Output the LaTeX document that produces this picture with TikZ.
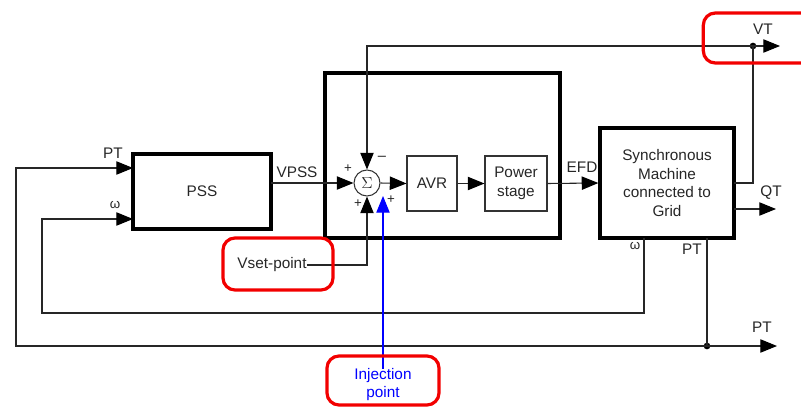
\documentclass[tikz,border=0pt]{standalone}
\usepackage{fontspec}
\setmainfont{Liberation Sans}
\usetikzlibrary{arrows.meta}
\begin{document}
\begin{tikzpicture}[x=0.75pt,y=-0.75pt,
  every node/.style={font=\fontsize{11.5}{13.9}\selectfont, text=black!85},
  thickbox/.style={draw=black, line width=2.4pt, inner sep=0pt},
  thinbox/.style={draw=black!80, line width=0.8pt, inner sep=0pt},
  redbox/.style={draw=red!95!black, line width=2.4pt, rounded corners=9pt},
  wire/.style={draw=black!85, line width=0.8pt},
  arr/.style={wire, -{Triangle[length=12.5pt,width=10pt,color=black]}},
  lbl/.style={inner sep=0pt},
  small/.style={inner sep=0pt, font=\fontsize{10}{10}\selectfont},
  dot/.style={circle, fill=black, inner sep=0pt, minimum size=5pt}
]
\useasboundingbox (0,0) rectangle (801,407);
\clip (0,0) rectangle (801,407);

% blocks
\node[thickbox, minimum width=103.5pt, minimum height=56.25pt] (pss) at (202,191.5) {PSS};
\node[thickbox, minimum width=176.25pt, minimum height=123.75pt] (ctrl) at (442.5,155.5) {};
\node[thinbox, circle, minimum size=19.5pt] (sum) at (367,183) {\fontsize{12}{12}\selectfont$\Sigma$};
\node[thinbox, minimum width=37.5pt, minimum height=41.25pt] (avr) at (432,183.5) {AVR};
\node[thinbox, minimum width=46.5pt, minimum height=41.25pt, align=center] (power) at (516,183.5) {Power\\stage};
\node[thickbox, minimum width=100.5pt, minimum height=82.5pt, align=center] (machine) at (667,183) {Synchronous\\Machine\\connected to\\Grid};

% coordinates
\coordinate (ptin) at (133,168);
\coordinate (win) at (133,219);
\coordinate (vpssout) at (271,183);
\coordinate (wout) at (644,238);
\coordinate (ptout) at (707,238);
\coordinate (ptend) at (777,346);
\coordinate (vtstart) at (734,183);
\coordinate (vtcorner) at (753,183);
\coordinate (vtend) at (780,46);
\coordinate (qtstart) at (734,209);
\coordinate (qtend) at (776,209);
\coordinate (injtip) at (383,196);

\node[dot] (ptdot) at (707,346) {};
\node[dot] (vtdot) at (753,46) {};

% connectors
\draw[arr] (vpssout) -- (sum.west);
\draw[arr] (sum.east) -- (avr.west);
\draw[arr] (avr.east) -- (power.west);
\draw[arr] (power.east) -- (machine.west);
\draw[arr] (qtstart) -- (qtend);
\draw[wire] (vtstart) -- (vtcorner) -- (vtdot.center);
\draw[arr] (vtdot.center) -- (vtend);
\draw[arr] (vtdot.center) -| (sum.north);
\draw[wire] (ptout) -- (ptdot.center);
\draw[arr] (ptdot.center) -- (ptend);
\draw[arr] (ptdot.center) -| (16,168) -- (ptin);
\draw[arr] (wout) |- (42,313) |- (win);

% Vset-point
\node[lbl] (vset) at (272,265) {Vset-point};
\draw[arr] (vset.east) -| (sum.south);
\node[redbox, minimum width=82.5pt, minimum height=39pt] (vsetbox) at (278,264) {};

% Injection point
\node[lbl, align=center, text=blue, font=\fontsize{11.5}{13.5}\selectfont] (inj) at (383,385) {Injection\\point};
\draw[draw=blue, line width=0.8pt, -{Triangle[length=12.5pt,width=10pt]}] (inj.north) -- (injtip);
\node[redbox, minimum width=84pt, minimum height=36.75pt] (injbox) at (383,380.5) {};

% VT red box (cut at right edge)
\node[redbox, minimum width=100pt, minimum height=37.5pt] (vtbox) at (770,38) {};

% labels
\node[lbl] (lpt1) at (113,153) {PT};
\node[small] (lw1) at (115,205) {ω};
\node[lbl] (lvpss) at (297,172) {VPSS};
\node[small] (lp1) at (348,169) {+};
\node[small] (lm1) at (382,158) {\fontsize{11}{11}\selectfont –};
\node[small] (lp2) at (358,204) {+};
\node[small] (lp3) at (391,200) {+};
\node[lbl] (lefd) at (582,167) {EFD};
\node[lbl] (lvt) at (763,29) {VT};
\node[lbl] (lqt) at (771,193) {QT};
\node[small] (lw2) at (635,246) {ω};
\node[lbl] (lpt2) at (692,249) {PT};
\node[lbl] (lpt3) at (762,327) {PT};
\end{tikzpicture}
\end{document}
